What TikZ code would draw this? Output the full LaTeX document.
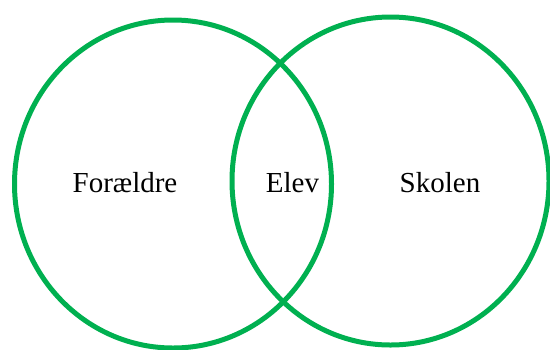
\documentclass[tikz,border=0pt]{standalone}
\usepackage{fontspec}
\setmainfont{Liberation Serif}
\usepackage{xcolor}
\usetikzlibrary{shapes.geometric,positioning}
\definecolor{OfficeGreen}{HTML}{00B050}
\tikzset{
    % Set ring style
    setring/.style={
        ellipse,
        draw=OfficeGreen,
        line width=2.5pt,
        inner sep=0pt,
        minimum width=158.5pt,
        minimum height=164pt
    },
    % Label style
    setlabel/.style={
        anchor=base,
        inner sep=0pt,
        font=\fontsize{14.5}{17}\selectfont
    }
}
\begin{document}
\begin{tikzpicture}[x=0.5pt, y=-0.5pt]
        \useasboundingbox (0,0) rectangle (550,349);

        % Rings
        \node[setring] (parents) at (173,184) {};
        \node[setring] (school) at (390.5,181) {};

        % Labels
        \node[setlabel] (parentslabel) at (125,192.5) {Forældre};
        \node[setlabel] (pupillabel) at (292.5,192.5) {Elev};
        \node[setlabel] (schoollabel) at (440,192.5) {Skolen};
    \end{tikzpicture}
\end{document}
